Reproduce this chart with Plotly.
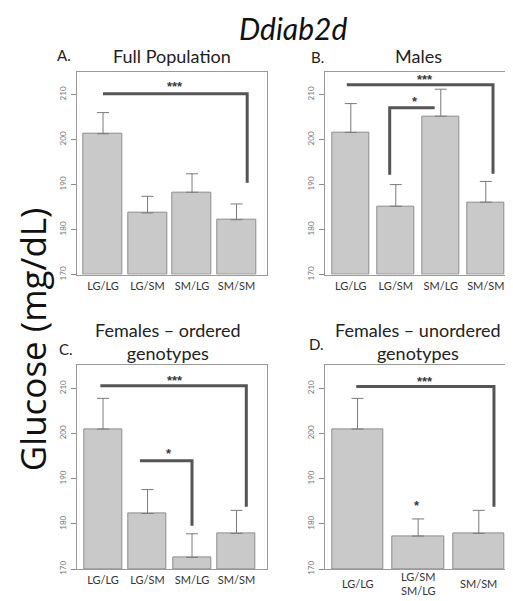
import plotly.graph_objects as go

# ---------------- data ----------------
genotypes = ["LG/LG", "LG/SM", "SM/LG", "SM/SM"]
unordered_genotypes = ["LG/LG", "LG/SM<br>SM/LG", "SM/SM"]

full_mean = [201.3, 183.7, 188.3, 182.2]
full_se = [4.7, 3.7, 4.1, 3.5]

males_mean = [201.6, 185.2, 205.2, 186.1]
males_se = [6.4, 4.8, 6.0, 4.6]

fem_ord_mean = [201.0, 182.3, 172.6, 177.9]
fem_ord_se = [6.8, 5.3, 5.2, 5.1]

fem_unord_mean = [201.0, 177.3, 177.9]
fem_unord_se = [6.8, 3.8, 5.1]

# significance brackets: (x_start, x_end, y_level, drop_side, y_drop)
full_brackets = [(0.0, 3.24, 210.2, "right", 190.4)]
males_brackets = [(-0.09, 3.16, 212.2, "right", 192.4), (0.864, 1.864, 207.1, "left", 192.2)]
fem_ord_brackets = [(-0.06, 3.22, 210.6, "right", 183.8), (0.83, 2.0, 194.0, "right", 179.6)]
fem_unord_brackets = [(-0.02, 2.25, 210.4, "right", 183.8)]

# significance labels: (x, y, text)
full_stars = [(1.61, 211.8, "***")]
males_stars = [(1.64, 213.4, "***"), (1.42, 208.4, "*")]
fem_ord_stars = [(1.61, 211.8, "***"), (1.48, 195.6, "*")]
fem_unord_stars = [(1.108, 211.5, "***"), (0.98, 184.1, "*")]

panel_titles = ["Full Population", "Males", "Females \u2013 ordered<br>genotypes",
                "Females \u2013 unordered<br>genotypes"]
panel_letters = ["A.", "B.", "C.", "D."]
main_title = "Ddiab2d"
y_title = "Glucose (mg/dL)"
y_ticks = [170, 180, 190, 200, 210]

# ---------------- layout helpers ----------------
W, H = 513, 601
FONT = "Lato, 'Open Sans', sans-serif"


def px_x(v):
    return v / W


def px_y(v):
    return 1 - v / H


panels = [
    dict(cats=genotypes, mean=full_mean, se=full_se, br=full_brackets, st=full_stars,
         xd=[69.3, 259.0], yd=[64.3, 269.3], xr=[-0.578, 3.685], bw=0.87, axis_labels=True),
    dict(cats=genotypes, mean=males_mean, se=males_se, br=males_brackets, st=males_stars,
         xd=[317.3, 502.7], yd=[64.3, 269.3], xr=[-0.567, 3.553], bw=0.838, axis_labels=True),
    dict(cats=genotypes, mean=fem_ord_mean, se=fem_ord_se, br=fem_ord_brackets, st=fem_ord_stars,
         xd=[69.3, 259.0], yd=[361.0, 566.7], xr=[-0.578, 3.685], bw=0.86, axis_labels=True),
    dict(cats=unordered_genotypes, mean=fem_unord_mean, se=fem_unord_se, br=fem_unord_brackets,
         st=fem_unord_stars, xd=[317.3, 502.7], yd=[361.0, 566.7], xr=[-0.531, 2.526], bw=0.846,
         axis_labels=False),
]

fig = go.Figure()
shapes = []
annotations = []
layout_axes = {}
tick_font = dict(family=FONT, size=11, color="#333333")

for i, p in enumerate(panels):
    n = i + 1
    xa = "x" if n == 1 else f"x{n}"
    ya = "y" if n == 1 else f"y{n}"
    xs = list(range(len(p["cats"])))
    fig.add_trace(go.Bar(
        x=xs, y=[m - 170 for m in p["mean"]], base=170, width=p["bw"],
        xaxis=xa, yaxis=ya,
        marker=dict(color="#c9c9c9", line=dict(color="#8c8c8c", width=1)),
        error_y=dict(type="data", symmetric=False, array=p["se"],
                     arrayminus=[0] * len(p["se"]),
                     color="#7a7a7a", thickness=1, width=6),
        showlegend=False, hoverinfo="skip",
    ))
    xkey = "xaxis" if n == 1 else f"xaxis{n}"
    ykey = "yaxis" if n == 1 else f"yaxis{n}"
    layout_axes[xkey] = dict(
        domain=[px_x(p["xd"][0]), px_x(p["xd"][1])], range=p["xr"], anchor=ya,
        tickvals=xs, ticktext=p["cats"], ticks="", showgrid=False, zeroline=False,
        showline=True, mirror=True, linecolor="#9a9a9a", linewidth=1,
        tickfont=tick_font, ticklabelstandoff=1, showticklabels=p["axis_labels"],
    )
    layout_axes[ykey] = dict(
        domain=[px_y(p["yd"][1]), px_y(p["yd"][0])], range=[170, 215.1], anchor=xa,
        tickvals=y_ticks, ticks="outside", ticklen=5, tickcolor="#8a8a8a",
        tickangle=-90, tickfont=dict(family=FONT, size=8, color="#777777"),
        ticklabelstandoff=2,
        showgrid=False, zeroline=False, showline=True, mirror=True,
        linecolor="#9a9a9a", linewidth=1,
    )
    xref, yref = xa, ya
    if not p["axis_labels"]:
        # multi-line category labels, vertically centred under each bar
        for xv, lab in zip(xs, p["cats"]):
            annotations.append(dict(x=xv, y=px_y(p["yd"][1] + 15), xref=xref, yref="paper",
                                    text=lab, showarrow=False, font=tick_font,
                                    xanchor="center", yanchor="middle"))
    for (x0, x1, yl, side, yd) in p["br"]:
        if side == "right":
            path = f"M {x0},{yl} L {x1},{yl} L {x1},{yd}"
        else:
            path = f"M {x0},{yd} L {x0},{yl} L {x1},{yl}"
        shapes.append(dict(type="path", path=path, xref=xref, yref=yref,
                           line=dict(color="#555555", width=3)))
    for (sx, sy, txt) in p["st"]:
        annotations.append(dict(x=sx, y=sy, xref=xref, yref=yref, text=f"<b>{txt}</b>",
                                showarrow=False,
                                font=dict(family="'Liberation Sans', Arial, sans-serif",
                                          size=13, color="#3a3a3a"), yshift=0))

# titles
title_pos = [(164, 48), (410, 48), (160, 337), (410, 337)]
letter_pos = [(56, 47), (309, 49), (58, 344), (308, 339)]
for t, (tx, ty) in zip(panel_titles, title_pos):
    annotations.append(dict(x=px_x(tx), y=px_y(ty), xref="paper", yref="paper", text=t,
                            showarrow=False, font=dict(family=FONT, size=18, color="#222222"),
                            xanchor="center", yanchor="middle"))
for t, (tx, ty) in zip(panel_letters, letter_pos):
    annotations.append(dict(x=px_x(tx), y=px_y(ty), xref="paper", yref="paper", text=t,
                            showarrow=False, font=dict(family=FONT, size=15, color="#222222"),
                            xanchor="center", yanchor="middle", borderpad=0))
annotations.append(dict(x=px_x(285), y=px_y(20), xref="paper", yref="paper",
                        text=f"<i>{main_title}</i>", showarrow=False,
                        font=dict(family=FONT, size=30, color="#111111"),
                        xanchor="center", yanchor="middle", borderpad=0))
annotations.append(dict(x=0, y=px_y(335), xref="paper", yref="paper", text=y_title,
                        textangle=-90, showarrow=False, borderpad=0,
                        font=dict(family="'Open Sans', sans-serif", size=35, color="#111111"),
                        xanchor="left", yanchor="middle"))

fig.update_layout(
    width=W, height=H, autosize=False,
    margin=dict(l=0, r=0, t=0, b=0),
    paper_bgcolor="white", plot_bgcolor="white",
    shapes=shapes, annotations=annotations, bargap=0,
    **layout_axes,
)

fig.write_html("out.html")
